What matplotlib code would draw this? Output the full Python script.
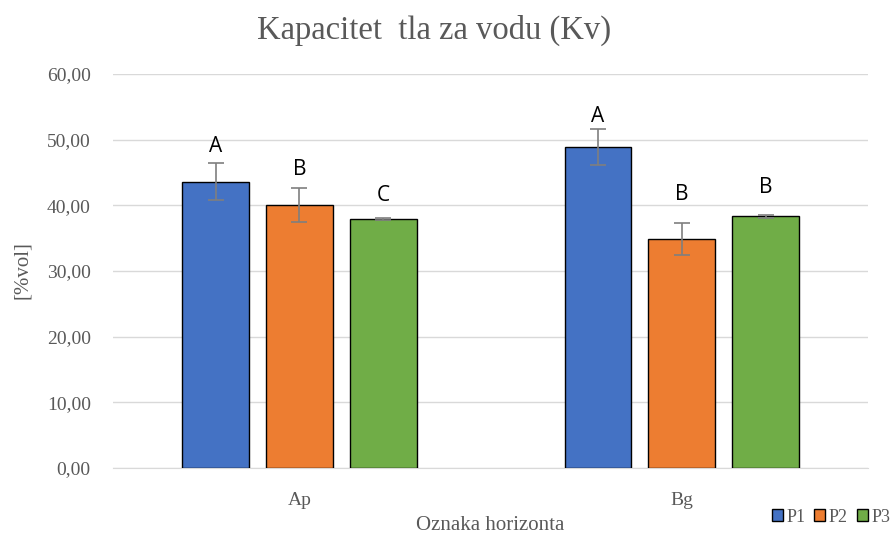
import matplotlib
matplotlib.use("Agg")
import matplotlib.pyplot as plt
import numpy as np

categories = ["Ap", "Bg"]
series = ["P1", "P2", "P3"]
values = {
    "P1": [43.6, 48.9],
    "P2": [40.0, 34.9],
    "P3": [37.9, 38.3],
}
errors = {
    "P1": [2.8, 2.75],
    "P2": [2.6, 2.45],
    "P3": [0.2, 0.25],
}
letters = {
    "P1": ["A", "A"],
    "P2": ["B", "B"],
    "P3": ["C", "B"],
}
# baseline height (data units) of each significance letter
letter_y = {
    "P1": [48.1, 52.7],
    "P2": [44.6, 40.8],
    "P3": [40.7, 41.9],
}
colors = {"P1": "#4472C4", "P2": "#ED7D31", "P3": "#70AD47"}
yticks = [0, 10, 20, 30, 40, 50, 60]
ytick_labels = ["0,00", "10,00", "20,00", "30,00", "40,00", "50,00", "60,00"]

serif = ["Liberation Serif", "DejaVu Serif"]
fig = plt.figure(figsize=(8.92, 5.35), dpi=100)
ax = fig.add_axes([113/892, 1-468/535, 755/892, (468-74)/535])

x = np.arange(len(categories))
width = 0.175
step = 0.2196
for i, s in enumerate(series):
    pos = x + (i - 1) * step
    ax.bar(pos, values[s], width, color=colors[s], edgecolor="black", linewidth=1.0, zorder=3, label=s)
    ax.errorbar(pos, values[s], yerr=errors[s], fmt="none", ecolor="#7f7f7f", elinewidth=1.2, capsize=6, capthick=1.2, zorder=4)
    for p, ly, t in zip(pos, letter_y[s], letters[s]):
        ax.text(p, ly, t, ha="center", va="baseline", fontsize=15, family=["Open Sans", "DejaVu Sans"], color="black", zorder=5)

ax.set_xlim(-0.4876, 1.4864)
ax.set_ylim(0, 60)
ax.set_yticks(yticks)
ax.set_yticklabels(ytick_labels, family=serif, fontsize=14, color="#595959")
ax.set_xticks(x)
ax.set_xticklabels(categories, family=serif, fontsize=14, color="#595959")
ax.tick_params(axis="y", length=0, pad=16)
ax.tick_params(axis="x", length=0, pad=17)
ax.grid(axis="y", color="#d9d9d9", linewidth=1, zorder=0)
for sp in ["top", "right", "left"]:
    ax.spines[sp].set_visible(False)
ax.spines["bottom"].set_color("#d9d9d9")

ax.set_ylabel("[%vol]", family=serif, fontsize=15, color="#595959")
ax.yaxis.set_label_coords(-(113-22)/755, (468-270)/394)
ax.set_xlabel("Oznaka horizonta", family=serif, fontsize=15, color="#595959")
ax.xaxis.set_label_coords((490-113)/755, -(525-468)/394)
ax.xaxis.label.set_va("center")
ax.yaxis.label.set_va("center")
fig.text(434/892, 1-30/535, "Kapacitet  tla za vodu (Kv)", ha="center", va="center", family=serif, fontsize=23.5, color="#595959")

leg = fig.legend(loc="center right", bbox_to_anchor=(1.0, 1-517/535), ncol=3, frameon=False,
                 prop={"family": serif, "size": 13}, handlelength=0.6, handleheight=0.6,
                 handletextpad=0.2, columnspacing=0.5, borderaxespad=0.0, borderpad=0.1)
for t in leg.get_texts():
    t.set_color("#595959")

fig.savefig("out.png", dpi=100)
